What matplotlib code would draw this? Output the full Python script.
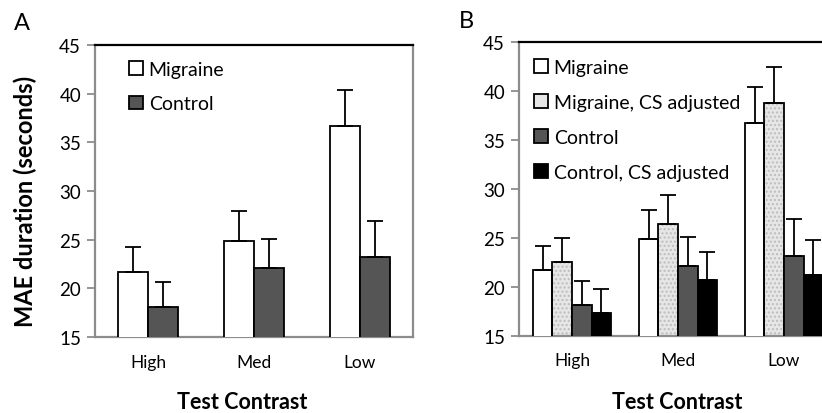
import numpy as np
import matplotlib.pyplot as plt
from matplotlib.patches import Patch

plt.rcParams['font.family'] = ['Lato', 'DejaVu Sans']

contrast = ["High", "Med", "Low"]

# panel A
migraine = [21.7, 24.9, 36.7]
migraine_top = [24.2, 27.9, 40.4]
control = [18.1, 22.1, 23.2]
control_top = [20.6, 25.1, 26.9]

# panel B (extra CS adjusted series)
migraine_cs = [22.5, 26.4, 38.8]
migraine_cs_top = [25.0, 29.4, 42.5]
control_cs = [17.3, 20.7, 21.2]
control_cs_top = [19.8, 23.6, 24.8]

W, H = 822, 414
fig = plt.figure(figsize=(W / 100, H / 100), dpi=100)
axA = fig.add_axes([95 / W, (H - 338) / H, 318 / W, 292 / H])
axB = fig.add_axes([519 / W, (H - 336.7) / H, 318 / W, 293.4 / H])

CTRL = "#555555"
GRID = "#8c8c8c"


def upper_err(vals, tops):
    v = np.array(vals)
    return [np.zeros_like(v), np.array(tops) - v]


def draw_bars(ax, x, vals, tops, width, face, cs=False):
    ekw = dict(ecolor="black", elinewidth=1.3, capsize=5.5, capthick=1.3)
    if cs:
        ax.bar(x, vals, width, bottom=0, color="#e6e6e6", edgecolor="#bdbdbd",
               hatch="....", linewidth=0, zorder=2)
        ax.bar(x, vals, width, facecolor="none", edgecolor="black",
               linewidth=1.3, zorder=3, yerr=upper_err(vals, tops), error_kw=ekw)
    else:
        ax.bar(x, vals, width, color=face, edgecolor="black", linewidth=1.3,
               zorder=3, yerr=upper_err(vals, tops), error_kw=ekw)


def style(ax):
    ax.set_ylim(15, 45)
    ax.set_xlim(-0.5, 2.5)
    ax.set_yticks(range(15, 46, 5))
    ax.set_xticks(range(3))
    ax.set_xticklabels(contrast, fontsize=12.5)
    ax.tick_params(axis="x", length=0, pad=12)
    ax.tick_params(axis="y", direction="out", length=6, width=1.3,
                   color=GRID, labelsize=13.5, pad=4)
    ax.spines["left"].set_color(GRID)
    ax.spines["bottom"].set_color(GRID)
    for s in ["left", "bottom", "top", "right"]:
        ax.spines[s].set_linewidth(1.6)


x = np.arange(3)

# panel A
wA = 0.285
draw_bars(axA, x - wA / 2, migraine, migraine_top, wA, "white")
draw_bars(axA, x + wA / 2, control, control_top, wA, CTRL)
style(axA)
axA.spines["right"].set_color(GRID)
axA.legend(handles=[Patch(facecolor="white", edgecolor="black", linewidth=1.3),
                    Patch(facecolor=CTRL, edgecolor="black", linewidth=1.3)],
           labels=["Migraine", "Control"], loc="upper left",
           bbox_to_anchor=(0.065, 0.993), frameon=False, fontsize=14,
           handlelength=0.7, handleheight=0.7, handletextpad=0.3,
           labelspacing=0.9, borderaxespad=0.3)
fig.text(25 / W, 1 - 201 / H, "MAE duration (seconds)", rotation=90,
         ha="center", va="center", fontsize=17, fontweight="bold")
fig.text(242 / W, 1 - 403 / H, "Test Contrast", ha="center", va="center",
         fontsize=15.5, fontweight="bold")
fig.text(14 / W, 1 - 23 / H, "A", fontsize=17, va="center")

# panel B
wB = 0.184
draw_bars(axB, x - 1.5 * wB, migraine, migraine_top, wB, "white")
draw_bars(axB, x - 0.5 * wB, migraine_cs, migraine_cs_top, wB, None, cs=True)
draw_bars(axB, x + 0.5 * wB, control, control_top, wB, CTRL)
draw_bars(axB, x + 1.5 * wB, control_cs, control_cs_top, wB, "black")
style(axB)
axB.legend(handles=[Patch(facecolor="white", edgecolor="black", linewidth=1.3),
                    Patch(facecolor="#e6e6e6", edgecolor="black", linewidth=1.3),
                    Patch(facecolor=CTRL, edgecolor="black", linewidth=1.3),
                    Patch(facecolor="black", edgecolor="black", linewidth=1.3)],
           labels=["Migraine", "Migraine, CS adjusted", "Control",
                   "Control, CS adjusted"], loc="upper left",
           bbox_to_anchor=(0.005, 0.99), frameon=False, fontsize=14,
           handlelength=0.7, handleheight=0.7, handletextpad=0.3,
           labelspacing=0.93, borderaxespad=0.3)
fig.text(677 / W, 1 - 403 / H, "Test Contrast", ha="center", va="center",
         fontsize=15.5, fontweight="bold")
fig.text(459 / W, 1 - 22 / H, "B", fontsize=17, va="center")

fig.savefig("out.png", dpi=100)
